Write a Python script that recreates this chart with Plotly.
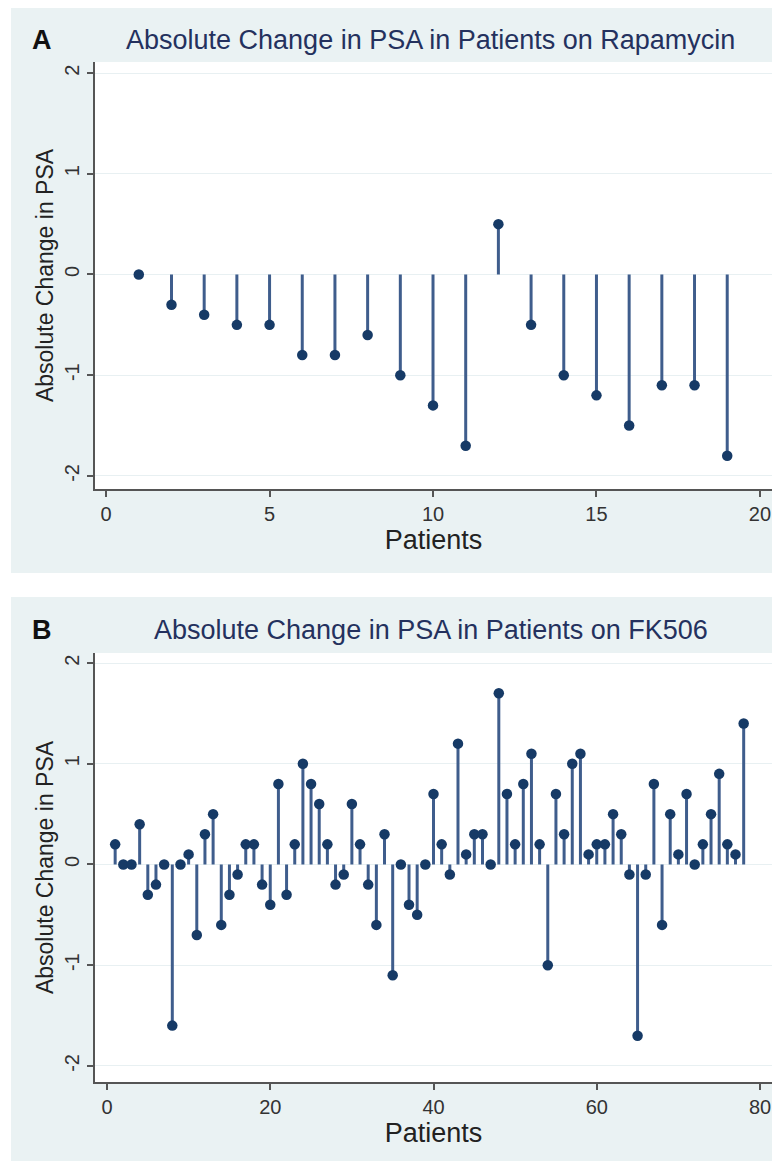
import plotly.graph_objects as go

# ---- data ----
rapa_patients = list(range(1, 20))
rapa_change = [0.0, -0.3, -0.4, -0.5, -0.5, -0.8, -0.8, -0.6, -1.0, -1.3,
               -1.7, 0.5, -0.5, -1.0, -1.2, -1.5, -1.1, -1.1, -1.8]

fk_patients = list(range(1, 79))
fk_change = [0.2, 0.0, 0.0, 0.4, -0.3, -0.2, 0.0, -1.6, 0.0, 0.1,
             -0.7, 0.3, 0.5, -0.6, -0.3, -0.1, 0.2, 0.2, -0.2, -0.4,
             0.8, -0.3, 0.2, 1.0, 0.8, 0.6, 0.2, -0.2, -0.1, 0.6,
             0.2, -0.2, -0.6, 0.3, -1.1, 0.0, -0.4, -0.5, 0.0, 0.7,
             0.2, -0.1, 1.2, 0.1, 0.3, 0.3, 0.0, 1.7, 0.7, 0.2,
             0.8, 1.1, 0.2, -1.0, 0.7, 0.3, 1.0, 1.1, 0.1, 0.2,
             0.2, 0.5, 0.3, -0.1, -1.7, -0.1, 0.8, -0.6, 0.5, 0.1,
             0.7, 0.0, 0.2, 0.5, 0.9, 0.2, 0.1, 1.4]

y_ticks = [-2, -1, 0, 1, 2]
y_tick_labels = ["-2", "-1", "0", "1", "2"]
rapa_x_ticks = [0, 5, 10, 15, 20]
fk_x_ticks = [0, 20, 40, 60, 80]

title_a = "Absolute Change in PSA in Patients on Rapamycin"
title_b = "Absolute Change in PSA in Patients on FK506"
y_title = "Absolute Change in PSA"
x_title = "Patients"

# ---- style ----
OFF = 8                      # page body margin
W, H = 780 - OFF, 1161 - OFF
FONT = "Liberation Sans, Arial, sans-serif"
BG = "#eaf2f3"
STEM = "#3f5d8c"
DOT = "#163a66"
TITLE_C = "#24315e"


def stems(xs, ys):
    sx, sy = [], []
    for x, y in zip(xs, ys):
        sx += [x, x, None]
        sy += [0, y, None]
    return sx, sy


fig = go.Figure()

for xs, ys, xa, ya in [(rapa_patients, rapa_change, "x", "y"),
                       (fk_patients, fk_change, "x2", "y2")]:
    sx, sy = stems(xs, ys)
    fig.add_trace(go.Scatter(x=sx, y=sy, mode="lines", xaxis=xa, yaxis=ya,
                             line=dict(color=STEM, width=3), hoverinfo="skip",
                             showlegend=False))
    fig.add_trace(go.Scatter(x=xs, y=ys, mode="markers", xaxis=xa, yaxis=ya,
                             marker=dict(color=DOT, size=10.5), showlegend=False))


def px_x(px):
    return max(0.0, (px - OFF) / W)


def px_y(px):
    return min(1.0, 1 - (px - OFF) / H)


x_dom = [px_x(95), px_x(772)]
axis_common = dict(showline=True, linecolor="#555555", linewidth=1.5,
                   ticks="outside", ticklen=6, tickcolor="#555555", tickwidth=1.5,
                   tickfont=dict(family=FONT, size=20, color="#333333"),
                   zeroline=False, mirror=False)
xt_font = dict(size=27, color="#222222")
yt_font = dict(size=23, color="#222222")

fig.update_layout(
    width=W, height=H,
    margin=dict(l=0, r=0, t=0, b=0),
    paper_bgcolor=BG, plot_bgcolor="white",
    font=dict(family=FONT),
    showlegend=False,
    xaxis=dict(domain=x_dom, anchor="y", range=[-0.34, 20.37],
               tickvals=rapa_x_ticks, showgrid=False,
               title=dict(text=x_title, font=xt_font, standoff=0),
               **axis_common),
    yaxis=dict(domain=[px_y(489), px_y(62)], anchor="x", range=[-2.13, 2.11],
               tickvals=y_ticks, ticktext=y_tick_labels, tickangle=-90, showgrid=True,
               gridcolor="#e8f0f2", gridwidth=1,
               title=dict(text=y_title, font=yt_font, standoff=1),
               **axis_common),
    xaxis2=dict(domain=x_dom, anchor="y2", range=[-1.47, 81.47],
                tickvals=fk_x_ticks, showgrid=False,
                title=dict(text=x_title, font=xt_font, standoff=0),
                **axis_common),
    yaxis2=dict(domain=[px_y(1082), px_y(653)], anchor="x2", range=[-2.16, 2.10],
                tickvals=y_ticks, ticktext=y_tick_labels, tickangle=-90, showgrid=True,
                gridcolor="#e8f0f2", gridwidth=1,
                title=dict(text=y_title, font=yt_font, standoff=1),
                **axis_common),
    shapes=[
        # white gap between the two panels
        dict(type="rect", xref="paper", yref="paper", x0=0, x1=1,
             y0=px_y(597), y1=px_y(573), fillcolor="white", line=dict(width=0), layer="below"),
        # thin white strip on the left edge
        dict(type="rect", xref="paper", yref="paper", x0=0, x1=px_x(11),
             y0=0, y1=1, fillcolor="white", line=dict(width=0), layer="below"),
    ],
    annotations=[
        dict(text=title_a, x=px_x(431), y=px_y(40), xref="paper", yref="paper",
             showarrow=False, font=dict(size=27, color=TITLE_C), xanchor="center", yanchor="middle"),
        dict(text=title_b, x=px_x(431), y=px_y(630), xref="paper", yref="paper",
             showarrow=False, font=dict(size=27, color=TITLE_C), xanchor="center", yanchor="middle"),
        dict(text="<b>A</b>", x=px_x(42), y=px_y(40), xref="paper", yref="paper",
             showarrow=False, font=dict(size=27, color="#111111"), xanchor="center", yanchor="middle"),
        dict(text="<b>B</b>", x=px_x(42), y=px_y(630), xref="paper", yref="paper",
             showarrow=False, font=dict(size=27, color="#111111"), xanchor="center", yanchor="middle"),
    ],
)

fig.write_html("out.html")
